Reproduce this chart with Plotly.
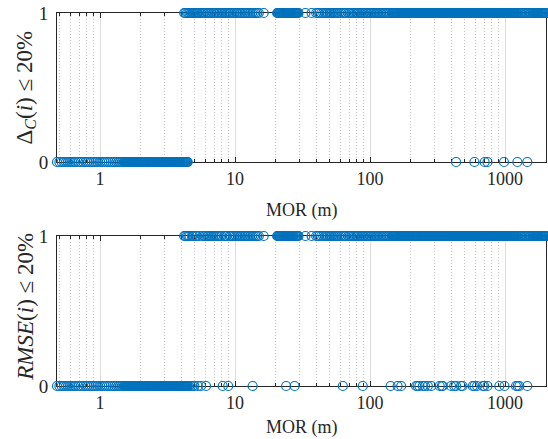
import math
import plotly.graph_objects as go

# MOR values (m) for low-visibility records, failing both criteria
mor_low = [0.48, 0.5, 0.52, 0.54, 0.56, 0.58, 0.6, 0.62, 0.64, 0.66, 0.69, 0.72, 0.75, 0.78,
           0.81, 0.84, 0.87, 0.9, 0.93, 0.96, 1.0, 1.04, 1.08, 1.12, 1.16, 1.2, 1.24, 1.28,
           1.32, 1.36, 1.4, 1.45, 1.5, 1.52, 1.54, 1.56, 1.58, 1.6, 1.62, 1.64, 1.66, 1.68,
           1.7, 1.72, 1.74, 1.76, 1.78, 1.805, 1.83, 1.855, 1.88, 1.905, 1.93, 1.955, 1.98,
           2.005, 2.03, 2.055, 2.08, 2.105, 2.13, 2.16, 2.19, 2.22, 2.25, 2.28, 2.31, 2.34,
           2.37, 2.4, 2.43, 2.46, 2.49, 2.52, 2.55, 2.585, 2.62, 2.655, 2.69, 2.725, 2.76,
           2.795, 2.83, 2.865, 2.9, 2.935, 2.97, 3.01, 3.05, 3.09, 3.13, 3.17, 3.21, 3.25,
           3.29, 3.33, 3.37, 3.415, 3.46, 3.505, 3.55, 3.595, 3.64, 3.685, 3.73, 3.775, 3.82,
           3.87, 3.92, 3.97, 4.02, 4.07, 4.12, 4.17, 4.22, 4.27, 4.32, 4.37, 4.42, 4.46]

# MOR values (m) for higher-visibility records
mor_high = [4.2, 4.3, 4.4, 4.5, 4.6, 4.7, 4.8, 4.9, 5.0, 5.1, 5.2, 5.3, 5.45, 5.6, 5.75, 5.9,
            6.05, 6.2, 6.35, 6.5, 6.7, 6.9, 7.1, 7.3, 7.5, 7.7, 7.9, 8.1, 8.3, 8.5, 8.7, 8.9,
            9.1, 9.3, 9.6, 9.9, 10.2, 10.5, 10.8, 11.1, 11.4, 11.7, 12.0, 12.3, 12.6, 13.0,
            13.4, 13.8, 14.2, 14.6, 15.0, 16.3,
            20.5, 20.75, 21.0, 21.25, 21.5, 21.75, 22.0, 22.25, 22.5, 22.75, 23.0, 23.25,
            23.5, 23.75, 24.0, 24.3, 24.6, 24.9, 25.2, 25.5, 25.8, 26.1, 26.4, 26.7, 27.0,
            27.3, 27.6, 27.9, 28.2, 28.5, 28.8, 29.15, 29.5, 33.2, 36.9,
            39.9, 41, 42, 43.5, 45, 46.5, 47.6, 48.7, 50, 51, 52, 53.3, 54.6, 56, 57.3, 59,
            61, 63.5, 65, 66.4, 69, 70.6, 72.3, 75, 77, 78.8,
            80.5, 82, 84, 86, 88, 90, 92.5, 95, 97.5, 100, 102.5, 105, 107.5, 110, 112.5, 115,
            118, 121, 124, 127, 130, 133, 136.5, 140,
            145, 147, 149, 151, 153, 155, 157, 159, 161, 163, 165, 167, 169, 171, 173, 175.5,
            178, 180.5, 183, 185.5, 188, 190.5, 193, 195.5, 198, 200.5, 203, 205.5, 208, 211,
            214, 217, 220, 223, 226, 229, 232, 235, 238, 241, 244, 247, 250, 253.5, 257,
            260.5, 264, 267.5, 271, 274.5, 278, 281.5, 285, 288.5, 292, 296, 300, 304, 308,
            312, 316, 320, 324, 328, 332, 336.5, 341, 345.5, 350, 354.5, 359, 363.5, 368,
            372.5, 377, 382, 387, 392, 397, 402, 407, 412.5, 418, 423.5, 429, 434.5, 440,
            445.5, 451, 457, 463, 469, 475, 481, 487, 493.5, 500, 506.5, 513, 519.5, 526, 533,
            540, 547, 554, 561, 568, 575.5, 583, 590.5, 598, 605.5, 613, 621, 629, 637, 645,
            653.5, 662, 670.5, 679, 688, 697, 706, 715, 724, 733, 742.5, 752, 762, 772, 782,
            792, 802, 812, 822.5, 833, 844, 855, 866, 877, 888.5, 900, 911.5, 923, 935, 947,
            959.5, 972, 984.5, 997, 1010, 1023, 1036.5, 1050, 1063.5, 1077, 1091, 1105,
            1119.5, 1134, 1148.5, 1163, 1178, 1193,
            1210, 1230, 1260, 1290, 1320, 1350, 1385, 1420, 1455, 1490, 1525, 1560, 1595,
            1630, 1655,
            1680, 1700, 1720, 1740, 1760, 1780, 1800, 1822, 1845, 1867, 1890, 1912, 1935,
            1957, 1980, 1990, 2000]

# Higher-visibility records that fail the Delta_C criterion
delta_fail_high = [434, 593, 706, 741, 982, 1234, 1460]

# Higher-visibility records that fail the RMSE criterion
rmse_fail_high = [4.55, 4.7, 4.85, 5.0, 5.3, 5.6, 6.1, 8.1, 8.9, 13.5, 23.9, 27.6, 62.9, 88.3,
                  142, 160, 170, 219, 225, 232, 246, 255, 268, 284, 328, 340, 346, 398, 420,
                  434, 471, 484, 576, 593, 620, 683, 700, 741, 906, 990, 1204, 1240, 1275,
                  1460]

x_ticks = [1, 10, 100, 1000]
x_ticktext = ["1", "10", "100", "1000"]
x_minor_ticks = [0.5, 0.6, 0.7, 0.8, 0.9, 2, 3, 4, 5, 6, 7, 8, 9, 20, 30, 40, 50, 60, 70, 80,
                 90, 200, 300, 400, 500, 600, 700, 800, 900, 2000]
y_ticks = [0, 1]

BLUE = "#0072BD"
FONT = "Liberation Serif"
AX = "#262626"

fig = go.Figure()


def add(xs, ys, xa, ya):
    fig.add_trace(go.Scatter(
        x=xs, y=ys, mode="markers", xaxis=xa, yaxis=ya,
        marker=dict(symbol="circle-open", size=9, color=BLUE, line=dict(width=1.2)),
        cliponaxis=False, showlegend=False, hoverinfo="skip"))


# top panel
add(mor_high, [1] * len(mor_high), "x", "y")
top_fail = mor_low + delta_fail_high
add(top_fail, [0] * len(top_fail), "x", "y")

# bottom panel
bottom_pass = [m for m in mor_high if m not in rmse_fail_high]
add(bottom_pass, [1] * len(bottom_pass), "x2", "y2")
bottom_fail = mor_low + rmse_fail_high
add(bottom_fail, [0] * len(bottom_fail), "x2", "y2")

xrange = [math.log10(0.48), math.log10(2010)]


def xaxis_cfg(anchor):
    return dict(
        type="log", range=xrange, anchor=anchor, domain=[0, 1], automargin=False,
        tickvals=x_ticks, ticktext=x_ticktext,
        ticks="inside", ticklen=5, tickcolor=AX, tickwidth=1,
        showline=True, linecolor=AX, linewidth=1, mirror="allticks",
        showgrid=True, gridcolor="#dcdcdc", gridwidth=1,
        minor=dict(ticks="inside", ticklen=3, tickcolor=AX, showgrid=True,
                   gridcolor="#c4c4c4", griddash="1px,2px", gridwidth=1,
                   tickvals=x_minor_ticks),
        zeroline=False, layer="below traces",
        tickfont=dict(family=FONT, size=18, color=AX),
    )


def yaxis_cfg(anchor, domain):
    return dict(
        range=[0, 1], anchor=anchor, domain=domain, automargin=False,
        tickvals=y_ticks, ticks="inside", ticklen=5, tickcolor=AX,
        showline=True, linecolor=AX, linewidth=1, mirror="allticks",
        showgrid=False, zeroline=False, layer="below traces",
        ticklabelstandoff=4,
        tickfont=dict(family=FONT, size=19, color=AX),
    )


title_font = dict(family=FONT, size=18, color=AX)
ytitle_font = dict(family=FONT, size=23, color=AX)

fig.update_layout(
    width=548, height=439, autosize=False,
    margin=dict(l=57, r=2, t=13, b=53),
    paper_bgcolor="white", plot_bgcolor="white",
    xaxis=xaxis_cfg("y"),
    xaxis2=xaxis_cfg("y2"),
    yaxis=yaxis_cfg("x", [0.6005, 1]),
    yaxis2=yaxis_cfg("x2", [0, 0.4021]),
    annotations=[
        dict(text="MOR (m)", xref="paper", yref="paper", x=0.5, y=0.4718,
             xanchor="center", yanchor="middle", showarrow=False, font=title_font),
        dict(text="MOR (m)", xref="paper", yref="paper", x=0.5, y=-0.1126,
             xanchor="center", yanchor="middle", showarrow=False, font=title_font),
        dict(text="Δ<sub><i>C</i></sub>(<i>i</i>)&nbsp;≤&nbsp;20%",
             xref="paper", yref="paper", x=-0.0634, y=0.8003, textangle=-90,
             xanchor="center", yanchor="middle", showarrow=False, font=ytitle_font),
        dict(text="<i>RMSE</i>(<i>i</i>)&nbsp;≤&nbsp;20%",
             xref="paper", yref="paper", x=-0.0634, y=0.2126, textangle=-90,
             xanchor="center", yanchor="middle", showarrow=False, font=ytitle_font),
    ],
)

# remove the page body's default 8px margin so the figure sits at the window origin
fig.write_html("out.html", config={"displayModeBar": False},
               post_script="document.body.style.margin='0';")
